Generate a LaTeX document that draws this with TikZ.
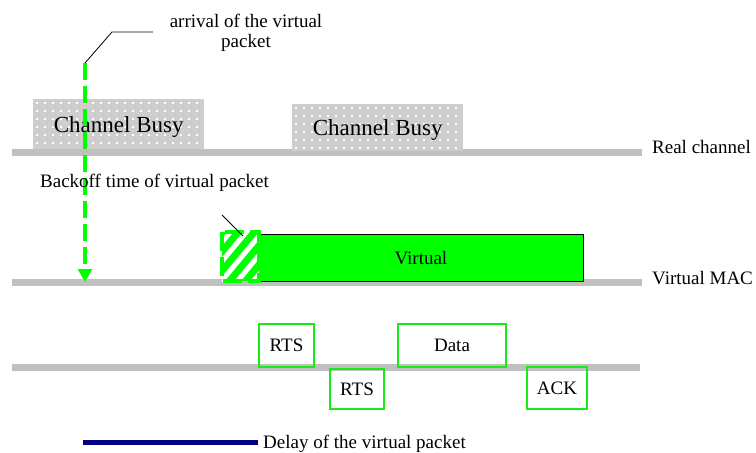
\documentclass[tikz,border=0pt]{standalone}
\usepackage{fontspec}
\setmainfont{Liberation Serif}
\usetikzlibrary{arrows.meta}
\definecolor{vgreen}{RGB}{0,255,0}
\definecolor{bgreen}{RGB}{25,235,25}
\definecolor{chgray}{RGB}{192,192,192}
\definecolor{busygray}{RGB}{206,206,206}
\definecolor{navyblue}{RGB}{0,0,128}
\begin{document}
\begin{tikzpicture}[x=1pt,y=-1pt,
  lbl/.style={font=\fontsize{19}{20}\selectfont, inner sep=0pt},
  bigl/.style={font=\fontsize{23}{25}\selectfont, inner sep=0pt, text depth=0pt},
  chan/.style={draw=chgray, line width=7pt},
  busybox/.style={fill=busygray, inner sep=0pt, anchor=north west},
  framebox/.style={draw=bgreen, line width=2pt, inner sep=0pt, anchor=north west,
    font=\fontsize{19}{20}\selectfont, text depth=0pt},
  leader/.style={draw=black, line width=0.8pt}
]
\useasboundingbox (0,0) rectangle (756,453);

% channel time lines
\coordinate (rcA) at (12,152);  \coordinate (rcB) at (642,152);
\coordinate (vmA) at (12,282);  \coordinate (vmB) at (642,282);
\coordinate (phA) at (12,367);  \coordinate (phB) at (640,367);
\draw[chan] (rcA) -- (rcB);
\draw[chan] (vmA) -- (vmB);
\draw[chan] (phA) -- (phB);

\node[lbl, anchor=base west] (rclbl) at (652,153) {Real channel};
\node[lbl, anchor=base west] (vmlbl) at (652,284) {Virtual MAC};

% busy periods on the real channel
\node[busybox, minimum width=171pt, minimum height=50pt] (busy1) at (33,99) {};
\node[busybox, minimum width=171pt, minimum height=47pt] (busy2) at (292,104) {};
\foreach \x in {37,45,...,200}
  \foreach \y in {103,111,...,146}
    \fill[white] (\x-0.7,\y-0.7) rectangle ++(1.4,1.4);
\foreach \x in {296,304,...,460}
  \foreach \y in {108,116,...,149}
    \fill[white] (\x-0.7,\y-0.7) rectangle ++(1.4,1.4);
\node[bigl] at (busy1.center) {Channel Busy};
\node[bigl] at (busy2.center) {Channel Busy};

% virtual packet on the virtual MAC
\node[draw=black, line width=0.8pt, fill=vgreen, anchor=north west,
  minimum width=325pt, minimum height=47pt, inner sep=0pt,
  font=\fontsize{19}{20}\selectfont, text depth=0pt] (virt) at (258,234) {Virtual};

% backoff slot (hatched)
\coordinate (bkA) at (222,232);
\coordinate (bkB) at (259,281);
\begin{scope}
  \clip (bkA) rectangle (bkB);
  \fill[vgreen] (bkA) rectangle (bkB);
  \foreach \s in {-40,-24,...,60}
    \draw[white, line width=5pt] (222+\s,290) -- (272+\s,230);
\end{scope}
\draw[vgreen, line width=3.5pt, dash pattern=on 19pt off 6pt] (bkA) rectangle (bkB);

% arrival of the virtual packet
\coordinate (arrTop) at (85,63);
\coordinate (arrKnee) at (112,32);
\coordinate (arrEnd) at (153,32);
\draw[vgreen, line width=3.5pt, dash pattern=on 17pt off 6pt,
  -{Triangle[width=14pt,length=13pt]}] (arrTop) -- (arrTop |- vmA);
\draw[leader] (arrTop) -- (arrKnee) -- (arrEnd);
\node[lbl, anchor=north, align=center] (arrlbl) at (246,14) {arrival of the virtual\\packet};

\node[lbl, anchor=base west] (bklbl) at (40,187) {Backoff time of virtual packet};
\coordinate (bkLead) at (222,215);
\draw[leader] (bkLead) -- (243,236);

% physical frame exchange
\node[framebox, minimum width=55pt, minimum height=43pt] (rts1) at (258,323) {RTS};
\node[framebox, minimum width=54pt, minimum height=40pt] (rts2) at (329,368) {RTS};
\node[framebox, minimum width=108pt, minimum height=43pt] (data) at (397,323) {Data};
\node[framebox, minimum width=60pt, minimum height=42pt] (ack) at (526,366) {ACK};

% delay of the virtual packet
\coordinate (dlA) at (83,442);
\coordinate (dlB) at (258,442);
\draw[navyblue, line width=5pt] (dlA) -- (dlB);
\node[lbl, anchor=base west] (dllbl) at (263,448) {Delay of the virtual packet};
\end{tikzpicture}
\end{document}
